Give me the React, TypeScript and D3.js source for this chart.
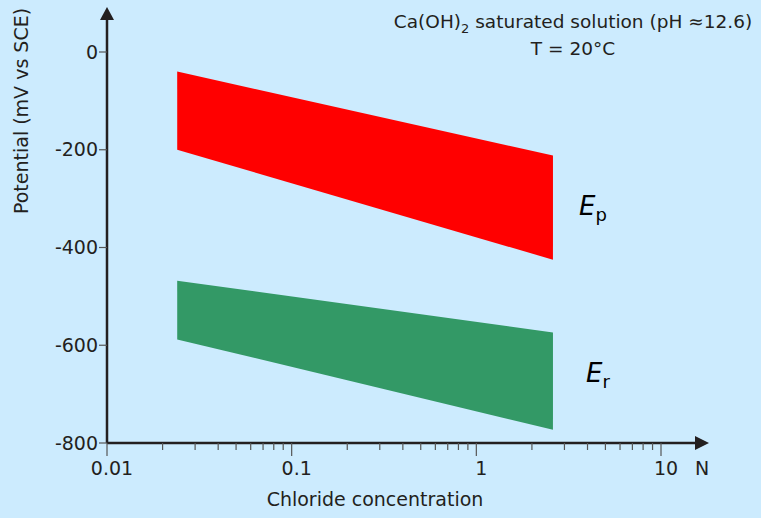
import React from "react";
import * as d3 from "d3";

const W = 761;
const H = 518;

// Data
const bandX = [0.024, 2.6];
const epTop = [-40, -212];
const epBottom = [-200, -425];
const erTop = [-468, -574];
const erBottom = [-588, -773];
const yTicks = [0, -200, -400, -600, -800];
const xMajor = [0.01, 0.1, 1, 10];
const xMajorLabels = ["0.01", "0.1", "1", "10"];

const FONT = "'DejaVu Sans', Verdana, sans-serif";
const INK = "#231f20";

export default function App() {
  const x = d3.scaleLog().domain([0.01, 10]).range([107, 661]);
  const y = d3.scaleLinear().domain([0, -800]).range([52, 443]);

  const minor: number[] = [];
  [0.01, 0.1, 1].forEach((dec) => {
    for (let k = 2; k <= 9; k++) minor.push(dec * k);
  });

  const band = (top: number[], bottom: number[]) => {
    const pts: [number, number][] = [
      [x(bandX[0]), y(top[0])],
      [x(bandX[1]), y(top[1])],
      [x(bandX[1]), y(bottom[1])],
      [x(bandX[0]), y(bottom[0])],
    ];
    return d3.line()(pts)! + "Z";
  };

  const x0 = x(0.01);
  const yBase = y(-800);

  return (
    <svg
      width={W}
      height={H}
      style={{ position: "absolute", left: 0, top: 0, display: "block" }}
      fontFamily={FONT}
    >
      <rect width={W} height={H} fill="#ccebfe" />

      <path d={band(epTop, epBottom)} fill="#ff0000" />
      <path d={band(erTop, erBottom)} fill="#339966" />

      {/* Y axis */}
      <line x1={x0} x2={x0} y1={yBase} y2={18} stroke={INK} strokeWidth={2.5} />
      <path d={`M${x0 - 7},20 L${x0},7 L${x0 + 7},20 Z`} fill={INK} />
      {yTicks.map((t) => (
        <g key={t}>
          <line x1={x0 - 8} x2={x0} y1={y(t)} y2={y(t)} stroke="#555" strokeWidth={1.2} />
          <text
            x={98}
            y={y(t)}
            dy="0.35em"
            textAnchor="end"
            fontSize={19}
            fill={INK}
          >
            {t === 0 ? "0" : String(t)}
          </text>
        </g>
      ))}

      {/* X axis */}
      <line x1={x0} x2={696} y1={yBase} y2={yBase} stroke={INK} strokeWidth={2.5} />
      <path d={`M695,${yBase - 7} L709,${yBase} L695,${yBase + 7} Z`} fill={INK} />
      {minor.map((m) => (
        <line
          key={m}
          x1={x(m)}
          x2={x(m)}
          y1={yBase}
          y2={yBase + 7}
          stroke="#555"
          strokeWidth={1.2}
        />
      ))}
      {xMajor.map((m, i) => (
        <g key={m}>
          <line
            x1={x(m)}
            x2={x(m)}
            y1={yBase}
            y2={yBase + 13}
            stroke="#555"
            strokeWidth={1.2}
          />
          <text x={x(m) + 5} y={475} textAnchor="middle" fontSize={19} fill={INK}>
            {xMajorLabels[i]}
          </text>
        </g>
      ))}
      <text x={702} y={475} textAnchor="middle" fontSize={19} fill={INK}>
        N
      </text>

      <text x={375} y={506} textAnchor="middle" fontSize={19} fill={INK}>
        Chloride concentration
      </text>
      <text
        transform="translate(28,111) rotate(-90)"
        textAnchor="middle"
        fontSize={19}
        fill={INK}
      >
        Potential (mV vs SCE)
      </text>

      {/* Annotation */}
      <text x={573} y={28} textAnchor="middle" fontSize={18.5} fill={INK}>
        Ca(OH)
        <tspan fontSize={13} dy={5}>
          2
        </tspan>
        <tspan dy={-5}> saturated solution (pH ≈12.6)</tspan>
      </text>
      <text x={573} y={55} textAnchor="middle" fontSize={18.5} fill={INK}>
        T = 20°C
      </text>

      {/* Band labels */}
      <text x={579} y={215} fontSize={26} fontStyle="italic" fill="#000">
        E
        <tspan fontSize={18} fontStyle="normal" dy={6}>
          p
        </tspan>
      </text>
      <text x={586} y={382} fontSize={26} fontStyle="italic" fill="#000">
        E
        <tspan fontSize={18} fontStyle="normal" dy={6}>
          r
        </tspan>
      </text>
    </svg>
  );
}
